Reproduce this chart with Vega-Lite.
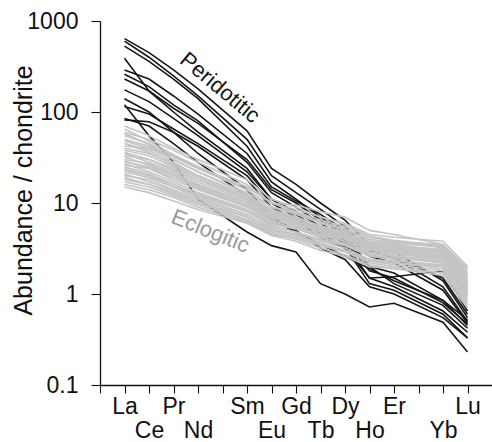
{
  "$schema": "https://vega.github.io/schema/vega-lite/v6.json",
  "autosize": {"type": "none"},
  "padding": {"left": 100, "top": 21, "right": 0, "bottom": 57},
  "width": 392,
  "height": 364,
  "config": {
    "view": {"stroke": null},
    "font": "Liberation Sans",
    "axis": {"grid": false, "domainColor": "#111", "domainWidth": 1.3, "tickColor": "#111", "tickWidth": 1.1, "labelColor": "#111", "titleColor": "#111", "labelFont": "Liberation Sans", "titleFont": "Liberation Sans"}
  },
  "datasets": {
    "elements": [
      {"el": "La", "i": 0}, {"el": "Ce", "i": 1}, {"el": "Pr", "i": 2}, {"el": "Nd", "i": 3},
      {"el": "Sm", "i": 5}, {"el": "Eu", "i": 6}, {"el": "Gd", "i": 7}, {"el": "Tb", "i": 8},
      {"el": "Dy", "i": 9}, {"el": "Ho", "i": 10}, {"el": "Er", "i": 11}, {"el": "Yb", "i": 13}, {"el": "Lu", "i": 14}
    ],
    "samples": [
      {"s": "B1", "g": "P", "La": 640, "Ce": 450, "Pr": 290, "Nd": 180, "Sm": 62, "Eu": 24, "Gd": 16, "Tb": 10, "Dy": 6.5, "Ho": 3.4, "Er": 2.9, "Yb": 1.4, "Lu": 0.55},
      {"s": "B2", "g": "P", "La": 600, "Ce": 400, "Pr": 250, "Nd": 150, "Sm": 50, "Eu": 20, "Gd": 13, "Tb": 8.5, "Dy": 5.5, "Ho": 3.0, "Er": 2.5, "Yb": 1.2, "Lu": 0.5},
      {"s": "B3", "g": "P", "La": 530, "Ce": 360, "Pr": 230, "Nd": 140, "Sm": 42, "Eu": 17, "Gd": 11, "Tb": 7, "Dy": 4.6, "Ho": 2.6, "Er": 2.2, "Yb": 1.1, "Lu": 0.48},
      {"s": "B4", "g": "P", "La": 390, "Ce": 170, "Pr": 110, "Nd": 75, "Sm": 30, "Eu": 14, "Gd": 10, "Tb": 6.5, "Dy": 4.5, "Ho": 2.0, "Er": 1.7, "Yb": 0.85, "Lu": 0.45},
      {"s": "B5", "g": "P", "La": 290, "Ce": 230, "Pr": 150, "Nd": 95, "Sm": 35, "Eu": 15, "Gd": 10.5, "Tb": 7.5, "Dy": 5, "Ho": 3.0, "Er": 2.5, "Yb": 1.5, "Lu": 0.6},
      {"s": "B6", "g": "P", "La": 260, "Ce": 190, "Pr": 120, "Nd": 80, "Sm": 28, "Eu": 13, "Gd": 9, "Tb": 6, "Dy": 4, "Ho": 2.0, "Er": 1.3, "Yb": 0.75, "Lu": 0.42},
      {"s": "B7", "g": "P", "La": 175, "Ce": 130, "Pr": 85, "Nd": 55, "Sm": 22, "Eu": 11, "Gd": 7.5, "Tb": 5, "Dy": 3.6, "Ho": 1.5, "Er": 1.2, "Yb": 0.65, "Lu": 0.38},
      {"s": "B8", "g": "P", "La": 115, "Ce": 95, "Pr": 65, "Nd": 45, "Sm": 20, "Eu": 10, "Gd": 7, "Tb": 4.6, "Dy": 3.3, "Ho": 1.3, "Er": 1.1, "Yb": 0.6, "Lu": 0.33},
      {"s": "B9", "g": "P", "La": 82, "Ce": 78, "Pr": 60, "Nd": 42, "Sm": 18, "Eu": 9, "Gd": 6.5, "Tb": 4.2, "Dy": 3.2, "Ho": 1.5, "Er": 1.55, "Yb": 1.8, "Lu": 0.65},
      {"s": "B10", "g": "P", "La": 120, "Ce": 55, "Pr": 28, "Nd": 11, "Sm": 4.8, "Eu": 3.4, "Gd": 2.9, "Tb": 1.3, "Dy": 1.0, "Ho": 0.72, "Er": 0.79, "Yb": 0.49, "Lu": 0.23},
      {"s": "B11", "g": "P", "La": 140, "Ce": 100, "Pr": 60, "Nd": 35, "Sm": 14, "Eu": 7, "Gd": 5, "Tb": 3.2, "Dy": 2.4, "Ho": 1.2, "Er": 1.0, "Yb": 0.55, "Lu": 0.33},
      {"s": "B12", "g": "P", "La": 85, "Ce": 70, "Pr": 45, "Nd": 28, "Sm": 12, "Eu": 6.5, "Gd": 4.8, "Tb": 3.5, "Dy": 2.6, "Ho": 1.9, "Er": 1.4, "Yb": 0.85, "Lu": 0.52},
      {"s": "B13", "g": "P", "La": 230, "Ce": 170, "Pr": 100, "Nd": 60, "Sm": 24, "Eu": 11, "Gd": 8, "Tb": 5.5, "Dy": 3.8, "Ho": 1.8, "Er": 1.5, "Yb": 0.8, "Lu": 0.47},
      {"s": "G1", "g": "E", "La": 70, "Ce": 55, "Pr": 40, "Nd": 30, "Sm": 18, "Eu": 11, "Gd": 9, "Tb": 7, "Dy": 6, "Ho": 4.5, "Er": 4.2, "Yb": 3.8, "Lu": 2.0},
      {"s": "G2", "g": "E", "La": 60, "Ce": 50, "Pr": 38, "Nd": 28, "Sm": 16, "Eu": 10, "Gd": 9.5, "Tb": 8, "Dy": 7, "Ho": 5, "Er": 4.5, "Yb": 3.5, "Lu": 1.8},
      {"s": "G3", "g": "E", "La": 55, "Ce": 45, "Pr": 33, "Nd": 25, "Sm": 15, "Eu": 10, "Gd": 8, "Tb": 6.5, "Dy": 5.5, "Ho": 4.2, "Er": 3.8, "Yb": 3.2, "Lu": 1.6},
      {"s": "G4", "g": "E", "La": 50, "Ce": 42, "Pr": 32, "Nd": 24, "Sm": 14, "Eu": 9, "Gd": 8, "Tb": 6, "Dy": 5, "Ho": 4, "Er": 3.6, "Yb": 3.3, "Lu": 1.5},
      {"s": "G5", "g": "E", "La": 48, "Ce": 40, "Pr": 30, "Nd": 22, "Sm": 13, "Eu": 9, "Gd": 7.5, "Tb": 6, "Dy": 5.2, "Ho": 3.8, "Er": 3.5, "Yb": 3, "Lu": 1.4},
      {"s": "G6", "g": "E", "La": 45, "Ce": 38, "Pr": 28, "Nd": 20, "Sm": 12, "Eu": 8.5, "Gd": 7, "Tb": 5.5, "Dy": 4.6, "Ho": 3.5, "Er": 3.2, "Yb": 2.9, "Lu": 1.3},
      {"s": "G7", "g": "E", "La": 42, "Ce": 40, "Pr": 33, "Nd": 24, "Sm": 15, "Eu": 10, "Gd": 8.5, "Tb": 7, "Dy": 5.8, "Ho": 4.3, "Er": 3.9, "Yb": 3.4, "Lu": 1.7},
      {"s": "G8", "g": "E", "La": 40, "Ce": 35, "Pr": 27, "Nd": 20, "Sm": 12, "Eu": 8, "Gd": 7, "Tb": 5.5, "Dy": 4.5, "Ho": 3.3, "Er": 3.0, "Yb": 2.6, "Lu": 1.2},
      {"s": "G9", "g": "E", "La": 38, "Ce": 33, "Pr": 25, "Nd": 19, "Sm": 11, "Eu": 7.5, "Gd": 6.5, "Tb": 5, "Dy": 4.2, "Ho": 3.1, "Er": 2.9, "Yb": 2.5, "Lu": 1.1},
      {"s": "G10", "g": "E", "La": 36, "Ce": 30, "Pr": 24, "Nd": 18, "Sm": 11, "Eu": 7.2, "Gd": 6.2, "Tb": 5.2, "Dy": 4.4, "Ho": 3.4, "Er": 3.1, "Yb": 2.8, "Lu": 1.35},
      {"s": "G11", "g": "E", "La": 35, "Ce": 28, "Pr": 22, "Nd": 16, "Sm": 10, "Eu": 7, "Gd": 6, "Tb": 4.8, "Dy": 4, "Ho": 3, "Er": 2.8, "Yb": 2.4, "Lu": 1.0},
      {"s": "G12", "g": "E", "La": 33, "Ce": 30, "Pr": 23, "Nd": 17, "Sm": 10.5, "Eu": 7.4, "Gd": 6.8, "Tb": 5.6, "Dy": 4.8, "Ho": 3.6, "Er": 3.3, "Yb": 3.1, "Lu": 1.5},
      {"s": "G13", "g": "E", "La": 32, "Ce": 26, "Pr": 20, "Nd": 15, "Sm": 9.5, "Eu": 6.5, "Gd": 5.6, "Tb": 4.5, "Dy": 3.8, "Ho": 2.8, "Er": 2.6, "Yb": 2.2, "Lu": 0.95},
      {"s": "G14", "g": "E", "La": 30, "Ce": 27, "Pr": 21, "Nd": 16, "Sm": 10, "Eu": 6.8, "Gd": 6, "Tb": 5, "Dy": 4.3, "Ho": 3.2, "Er": 3.0, "Yb": 2.7, "Lu": 1.25},
      {"s": "G15", "g": "E", "La": 29, "Ce": 24, "Pr": 18, "Nd": 14, "Sm": 9, "Eu": 6.2, "Gd": 5.3, "Tb": 4.2, "Dy": 3.5, "Ho": 2.6, "Er": 2.4, "Yb": 2.0, "Lu": 0.9},
      {"s": "G16", "g": "E", "La": 28, "Ce": 25, "Pr": 20, "Nd": 15.5, "Sm": 10, "Eu": 7, "Gd": 6.4, "Tb": 5.4, "Dy": 4.6, "Ho": 3.5, "Er": 3.3, "Yb": 3.0, "Lu": 1.45},
      {"s": "G17", "g": "E", "La": 27, "Ce": 22, "Pr": 17, "Nd": 13, "Sm": 8.5, "Eu": 6, "Gd": 5.2, "Tb": 4.2, "Dy": 3.6, "Ho": 2.7, "Er": 2.5, "Yb": 2.2, "Lu": 1.05},
      {"s": "G18", "g": "E", "La": 26, "Ce": 24, "Pr": 19, "Nd": 14.5, "Sm": 9.2, "Eu": 6.4, "Gd": 5.8, "Tb": 4.8, "Dy": 4.1, "Ho": 3.1, "Er": 2.9, "Yb": 2.6, "Lu": 1.2},
      {"s": "G19", "g": "E", "La": 25, "Ce": 21, "Pr": 16, "Nd": 12, "Sm": 8, "Eu": 5.6, "Gd": 4.8, "Tb": 3.8, "Dy": 3.2, "Ho": 2.4, "Er": 2.2, "Yb": 1.9, "Lu": 0.85},
      {"s": "G20", "g": "E", "La": 24, "Ce": 20, "Pr": 16, "Nd": 12.5, "Sm": 8.4, "Eu": 6, "Gd": 5.4, "Tb": 4.6, "Dy": 4, "Ho": 3.2, "Er": 3.1, "Yb": 2.9, "Lu": 1.5},
      {"s": "G21", "g": "E", "La": 23, "Ce": 20, "Pr": 15, "Nd": 11.5, "Sm": 7.5, "Eu": 5.2, "Gd": 4.5, "Tb": 3.6, "Dy": 3.0, "Ho": 2.3, "Er": 2.1, "Yb": 1.8, "Lu": 0.8},
      {"s": "G22", "g": "E", "La": 22, "Ce": 19, "Pr": 15, "Nd": 12, "Sm": 8, "Eu": 5.8, "Gd": 5.2, "Tb": 4.4, "Dy": 3.8, "Ho": 2.9, "Er": 2.7, "Yb": 2.5, "Lu": 1.15},
      {"s": "G23", "g": "E", "La": 21, "Ce": 17, "Pr": 13.5, "Nd": 10.5, "Sm": 7, "Eu": 5, "Gd": 4.4, "Tb": 3.5, "Dy": 3.0, "Ho": 2.3, "Er": 2.2, "Yb": 2.0, "Lu": 0.95},
      {"s": "G24", "g": "E", "La": 20, "Ce": 18, "Pr": 14, "Nd": 11, "Sm": 7.4, "Eu": 5.4, "Gd": 4.8, "Tb": 4, "Dy": 3.5, "Ho": 2.8, "Er": 2.6, "Yb": 2.4, "Lu": 1.1},
      {"s": "G25", "g": "E", "La": 19, "Ce": 16, "Pr": 12.5, "Nd": 10, "Sm": 6.6, "Eu": 4.8, "Gd": 4.2, "Tb": 3.4, "Dy": 2.9, "Ho": 2.2, "Er": 2.0, "Yb": 1.7, "Lu": 0.75},
      {"s": "G26", "g": "E", "La": 18, "Ce": 16, "Pr": 13, "Nd": 10, "Sm": 7, "Eu": 5, "Gd": 4.6, "Tb": 3.9, "Dy": 3.4, "Ho": 2.6, "Er": 2.5, "Yb": 2.3, "Lu": 1.05},
      {"s": "G27", "g": "E", "La": 17, "Ce": 15, "Pr": 12, "Nd": 9.5, "Sm": 6.4, "Eu": 4.6, "Gd": 4.0, "Tb": 3.2, "Dy": 2.7, "Ho": 2.1, "Er": 1.9, "Yb": 1.6, "Lu": 0.7},
      {"s": "G28", "g": "E", "La": 16, "Ce": 14, "Pr": 11.5, "Nd": 9, "Sm": 6.2, "Eu": 4.5, "Gd": 4.1, "Tb": 3.5, "Dy": 3.0, "Ho": 2.4, "Er": 2.3, "Yb": 2.1, "Lu": 1.0},
      {"s": "G29", "g": "E", "La": 15, "Ce": 13, "Pr": 10.5, "Nd": 8.5, "Sm": 6, "Eu": 4.4, "Gd": 3.8, "Tb": 3.0, "Dy": 2.6, "Ho": 2.0, "Er": 1.9, "Yb": 1.7, "Lu": 0.8},
      {"s": "G30", "g": "E", "La": 65, "Ce": 48, "Pr": 34, "Nd": 25, "Sm": 14, "Eu": 9, "Gd": 7.8, "Tb": 6.2, "Dy": 5.2, "Ho": 4.0, "Er": 3.7, "Yb": 3.5, "Lu": 1.9},
      {"s": "G31", "g": "E", "La": 58, "Ce": 44, "Pr": 30, "Nd": 22, "Sm": 12.5, "Eu": 8.2, "Gd": 7, "Tb": 5.6, "Dy": 4.8, "Ho": 3.7, "Er": 3.4, "Yb": 3.0, "Lu": 1.6},
      {"s": "G32", "g": "E", "La": 45, "Ce": 36, "Pr": 26, "Nd": 19, "Sm": 11.5, "Eu": 7.8, "Gd": 6.8, "Tb": 5.4, "Dy": 4.6, "Ho": 3.5, "Er": 3.3, "Yb": 3.1, "Lu": 1.7}
    ],
    "labels": [
      {"t": "Peridotitic", "g": "P", "i": 3.9, "v": 185},
      {"t": "Eclogitic", "g": "E", "i": 3.5, "v": 4.9}
    ]
  },
  "encoding": {
    "x": {
      "field": "i", "type": "quantitative",
      "scale": {"domain": [-1, 15], "nice": false, "zero": false},
      "axis": {
        "title": null,
        "values": [-1, 0, 1, 2, 3, 4, 5, 6, 7, 8, 9, 10, 11, 12, 13, 14],
        "labelExpr": "['La','Ce','Pr','Nd','','Sm','Eu','Gd','Tb','Dy','Ho','Er','','Yb','Lu'][datum.value] || ''",
        "labelFontSize": 23,
        "labelOverlap": false,
        "labelFlush": false,
        "labelBound": false,
        "tickSize": 8,
        "labelBaseline": "top",
        "labelPadding": {"condition": {"test": "indexof([1,3,6,8,10,13], datum.value) >= 0", "value": 26}, "value": 2}
      }
    },
    "y": {
      "field": "v", "type": "quantitative",
      "scale": {"type": "log", "domain": [0.1, 1000], "nice": false},
      "axis": {
        "title": "Abundance / chondrite",
        "values": [0.1, 1, 10, 100, 1000],
        "labelExpr": "datum.value < 1 ? '0.1' : format(datum.value, 'd')",
        "labelFontSize": 23,
        "tickSize": 9,
        "labelPadding": 13,
        "titleFontSize": 25,
        "titleFontWeight": "normal",
        "titleX": -69,
        "titleY": 169,
        "titleAngle": -90,
        "titleAlign": "center",
        "titleBaseline": "alphabetic"
      }
    }
  },
  "layer": [
    {
      "data": {"name": "samples"},
      "transform": [
        {"filter": "datum.g == 'P'"},
        {"fold": ["La", "Ce", "Pr", "Nd", "Sm", "Eu", "Gd", "Tb", "Dy", "Ho", "Er", "Yb", "Lu"], "as": ["el", "v"]},
        {"lookup": "el", "from": {"data": {"name": "elements"}, "key": "el", "fields": ["i"]}}
      ],
      "mark": {"type": "line", "color": "#161616", "strokeWidth": 1.6},
      "encoding": {"detail": {"field": "s"}}
    },
    {
      "data": {"name": "samples"},
      "transform": [
        {"filter": "datum.g == 'E'"},
        {"fold": ["La", "Ce", "Pr", "Nd", "Sm", "Eu", "Gd", "Tb", "Dy", "Ho", "Er", "Yb", "Lu"], "as": ["el", "v"]},
        {"lookup": "el", "from": {"data": {"name": "elements"}, "key": "el", "fields": ["i"]}}
      ],
      "mark": {"type": "line", "color": "#c4c4c4", "strokeWidth": 1.6},
      "encoding": {"detail": {"field": "s"}}
    },
    {
      "data": {"name": "labels"},
      "transform": [{"filter": "datum.g == 'P'"}],
      "mark": {"type": "text", "angle": 40, "fontSize": 22, "color": "#161616", "align": "center", "baseline": "middle", "font": "Liberation Sans"},
      "encoding": {"text": {"field": "t"}}
    },
    {
      "data": {"name": "labels"},
      "transform": [{"filter": "datum.g == 'E'"}],
      "mark": {"type": "text", "angle": 22, "fontSize": 22, "color": "#9a9a9a", "align": "center", "baseline": "middle", "font": "Liberation Sans"},
      "encoding": {"text": {"field": "t"}}
    }
  ]
}
